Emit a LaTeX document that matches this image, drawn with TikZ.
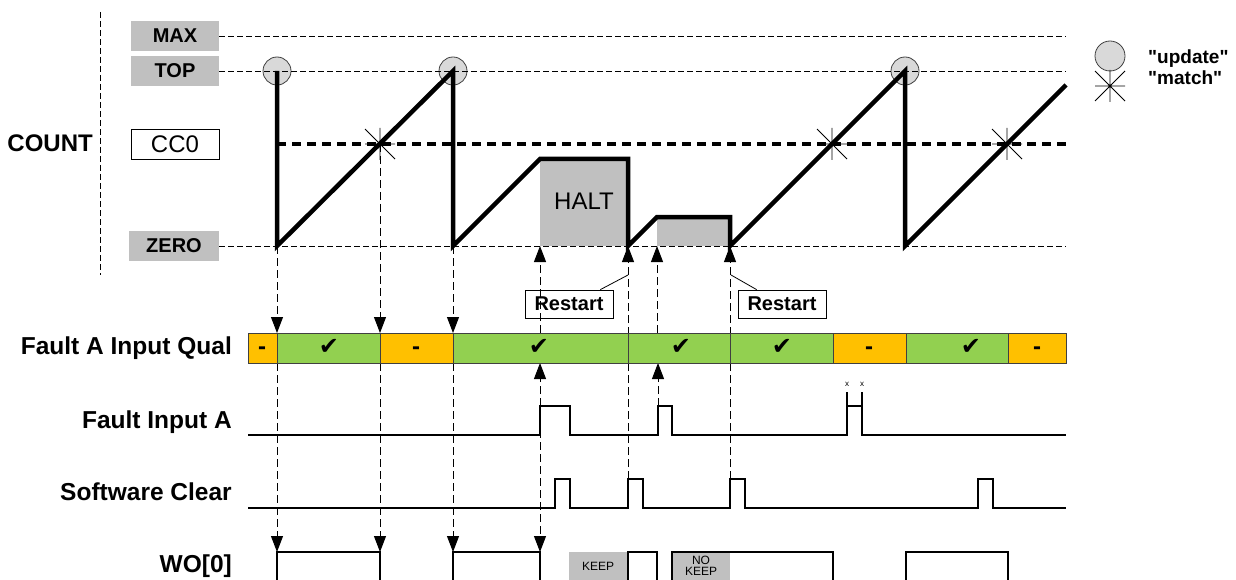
\documentclass[tikz,border=0pt]{standalone}
\usepackage{fontspec}
\setmainfont{Liberation Sans}
\newfontfamily\marcafont{DejaVu Sans}
\usepackage{tikz}
\usetikzlibrary{arrows.meta, positioning, calc}
\definecolor{gris}{HTML}{C0C0C0}
\definecolor{grisclaro}{HTML}{D9D9D9}
\definecolor{verde}{HTML}{92D050}
\definecolor{naranja}{HTML}{FFC000}
\newcommand{\tam}[1]{\fontsize{#1}{#1}\selectfont}
\newcommand{\bien}{{\marcafont ✔}}
\tikzset{
  nivel/.style={fill=gris, minimum width=88pt, minimum height=30pt, inner sep=0pt, font=\tam{20}\bfseries},
  etiq/.style={anchor=base east, inner sep=0pt, font=\tam{24.5}\bfseries},
  aviso/.style={draw, fill=white, line width=0.8pt, minimum width=88pt, minimum height=28pt, inner sep=0pt, font=\tam{20}\bfseries},
  guia/.style={dashed, dash pattern=on 6pt off 3pt, line width=0.7pt},
  flecha/.style={-{Triangle[length=16pt,width=12pt]}, dash pattern=on 8pt off 4pt, line width=0.9pt},
  cuenta/.style={line width=4.5pt},
  cc/.style={line width=4pt, dash pattern=on 9pt off 6pt},
  senal/.style={line width=2.6pt},
  upd/.style={draw=black!75, fill=grisclaro, line width=0.8pt},
  ok/.style={draw=black!75, fill=verde, line width=0.8pt},
  nok/.style={draw=black!75, fill=naranja, line width=0.8pt},
  marca/.style={anchor=base, inner sep=0pt},
  estrella/.pic={\draw[line width=0.8pt] (-15,-15) -- (15,15) (-15,15) -- (15,-15) (0,-16) -- (0,16) (-15,0) -- (15,0);},
}

\begin{document}
\begin{tikzpicture}[x=1pt, y=-1pt]
  \useasboundingbox (0,0) rectangle (1236,580);
  % COUNT
  \draw[guia] (100,12) -- (100,275);
  \node[etiq, font=\tam{24}\bfseries] (count) at (93,152) {COUNT};
  \fill[gris] (540,159) rectangle (628,246);
  \fill[gris] (657,217) rectangle (730,246);
  \node[font=\tam{24}] (halt) at (584,201) {HALT};
  \foreach \px in {277,453,905} \draw[upd] (\px,71) circle (14);
  \node[nivel] (max) at (175,36) {MAX};
  \node[nivel] (top) at (175,71) {TOP};
  \node[nivel, fill=white, draw, line width=0.8pt, font=\tam{24}] (cc0) at (175,144) {CC0};
  \node[nivel, minimum width=90pt] (zero) at (174,246) {ZERO};
  \draw[guia] (max.east) -- (1066,36);
  \draw[guia] (top.east) -- (1066,71);
  \draw[guia] (zero.east) -- (1066,246);
  \draw[cc] (277,144) -- (1066,144);
  \draw[cuenta] (277,71) -- (277,246) -- (453,71) -- (453,246) -- (540,159) -- (628,159) -- (628,246)
    -- (657,217) -- (730,217) -- (730,246) -- (905,71) -- (905,246) -- (1066,85);
  \foreach \px in {380,832,1007} \pic at (\px,144) {estrella};

  % leyenda
  \draw[upd] (1110,56) circle (15);
  \pic at (1110,86) {estrella};
  \node[anchor=base west, inner sep=0pt, font=\tam{19}\bfseries] (lupd) at (1148,64) {\textquotedbl update\textquotedbl};
  \node[anchor=base west, inner sep=0pt, font=\tam{19}\bfseries] (lmat) at (1148,85) {\textquotedbl match\textquotedbl};

  % restart
  \node[aviso] (r1) at (569,304) {Restart};
  \node[aviso] (r2) at (782,304) {Restart};
  \coordinate (rs1) at (628,275);
  \coordinate (rs2) at (731,275);
  \draw[line width=0.8pt] ($(r1.north east)+(-13,0)$) -- (rs1);
  \draw[line width=0.8pt] ($(r2.north west)+(19,0)$) -- (rs2);

  % flechas
  \foreach \px/\py in {277/246, 380/144, 453/246} {
    \draw[flecha] (\px,\py) -- (\px,333);
    \draw[flecha] (\px,363) -- (\px,552);
  }
  \draw[flecha] (540,333) -- (540,246);
  \draw[flecha] (540,406) -- (540,363);
  \draw[flecha] (540,406) -- (540,552);
  \draw[flecha] (657,333) -- (657,246);
  \draw[flecha] (658,406) -- (658,363);
  \draw[flecha] (628,479) -- (628,246);
  \draw[flecha] (730,479) -- (730,246);

  % Fault A Input Qual
  \foreach \a/\b/\e/\m/\c [count=\i] in {248/277/nok/-/262, 277/380/ok/\bien/329, 380/453/nok/-/416,
      453/628/ok/\bien/539, 628/730/ok/\bien/681, 730/833/ok/\bien/782, 833/906/nok/-/869,
      906/1008/ok/\bien/971, 1008/1066/nok/-/1037} {
    \draw[\e] (\a,333) rectangle (\b,363);
    \node[marca, font=\tam{24}\bfseries] (q\i) at (\c,354) {\m};
  }

  % senales
  \node[etiq] (lq) at (232,354) {Fault A Input Qual};
  \node[etiq] (lf) at (232,428) {Fault Input A};
  \node[etiq] (ls) at (232,500) {Software Clear};
  \node[etiq] (lw) at (232,572) {WO[0]};

  \draw[senal] (248,435) -- (540,435) -- (540,406) -- (570,406) -- (570,435) -- (658,435) -- (658,406)
    -- (672,406) -- (672,435) -- (847,435) -- (847,406) -- (862,406) -- (862,435) -- (1066,435);
  \draw[line width=1.2pt] (847,406) -- (847,392) (862,406) -- (862,392);
  \node[font=\tam{8}, inner sep=0pt] (x1) at (847,384) {x};
  \node[font=\tam{8}, inner sep=0pt] (x2) at (862,384) {x};

  \draw[senal] (248,508) -- (555,508) -- (555,479) -- (570,479) -- (570,508) -- (628,508) -- (628,479)
    -- (643,479) -- (643,508) -- (730,508) -- (730,479) -- (745,479) -- (745,508) -- (978,508)
    -- (978,479) -- (993,479) -- (993,508) -- (1066,508);

  \fill[gris] (569,552) rectangle (627,580);
  \fill[gris] (672,552) rectangle (730,580);
  \node[font=\tam{12}, inner sep=0pt] (keep) at (598,566) {KEEP};
  \node[font=\tam{12}, align=center, inner sep=0pt] (nokeep) at (701,566) {NO\\[-1pt]KEEP};
  \foreach \a/\b in {277/380, 453/540, 628/657, 672/833, 906/1008}
    \draw[senal] (\a,580) -- (\a,552) -- (\b,552) -- (\b,580);
\end{tikzpicture}
\end{document}
